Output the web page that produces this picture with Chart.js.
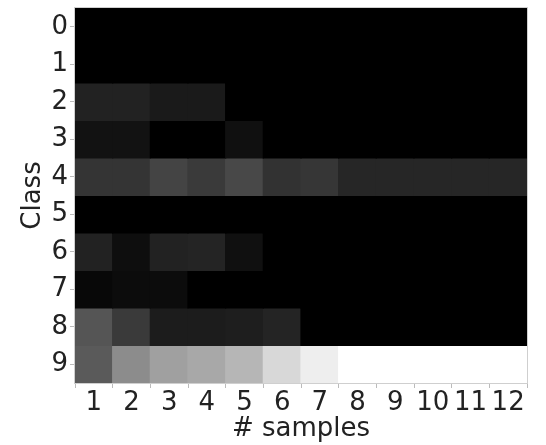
<!DOCTYPE html>
<html>
<head>
<meta charset="utf-8">
<script src="https://cdn.jsdelivr.net/npm/chart.js@4/dist/chart.umd.min.js"></script>
<style>
    html, body { margin: 0; padding: 0; background: #fff; }
    #wrap { width: 546px; height: 445px; }
</style>
</head>
<body>
<div id="wrap"><canvas id="myChart" width="546" height="445"></canvas></div>
<script>
// tick labels
const samples = ['1','2','3','4','5','6','7','8','9','10','11','12'];
const classes = [0,1,2,3,4,5,6,7,8,9];

// gray level (0-255) of every cell, one row per class
const class0 = [0,0,0,0,0,0,0,0,0,0,0,0];
const class1 = [0,0,0,0,0,0,0,0,0,0,0,0];
const class2 = [34,34,26,26,0,0,0,0,0,0,0,0];
const class3 = [18,18,0,0,16,0,0,0,0,0,0,0];
const class4 = [52,52,68,58,72,50,54,38,38,38,38,38];
const class5 = [0,0,0,0,0,0,0,0,0,0,0,0];
const class6 = [34,14,34,36,16,0,0,0,0,0,0,0];
const class7 = [8,12,12,0,0,0,0,0,0,0,0,0];
const class8 = [85,58,28,28,30,36,0,0,0,0,0,0];
const class9 = [90,140,160,168,182,216,238,255,255,255,255,255];

const rows = [class0,class1,class2,class3,class4,class5,class6,class7,class8,class9];

let ctx;
let myChart;

function gray(v){
    return 'rgb(' + v + ',' + v + ',' + v + ')';
}

// light frame round the plot area
const frame = {
    id: 'frame',
    afterDatasetsDraw(chart){
        const a = chart.chartArea;
        const c = chart.ctx;
        c.save();
        c.strokeStyle = '#cfcfcf';
        c.lineWidth = 1;
        c.strokeRect(a.left - 0.5, a.top - 0.5, a.right - a.left + 1, a.bottom - a.top + 1);
        c.restore();
    }
};

ctx = document.getElementById('myChart');

myChart = new Chart(ctx, {
    type: 'bar',
    data: {
        labels: samples,
        datasets: classes.map(function(c){
            return {
                label: 'Class ' + c,
                data: samples.map(function(){ return [c, c + 1]; }),
                backgroundColor: rows[c].map(gray),
                borderWidth: 0,
                inflateAmount: 0.6,   // hides the seams between cells
                barPercentage: 1,
                categoryPercentage: 1
            };
        })
    },
    options: {
        responsive: false,
        animation: false,
        grouped: false,
        layout: { padding: { left: 14, top: 8, right: 19, bottom: 0 } },
        plugins: {
            legend: { display: false },
            tooltip: { enabled: false }
        },
        scales: {
            x: {
                type: 'category',
                offset: true,
                grid: { display: true, drawOnChartArea: false, drawTicks: true, tickLength: 5, color: '#bbb' },
                border: { display: false },
                ticks: {
                    color: '#222',
                    padding: 0,
                    maxRotation: 0,
                    autoSkip: false,
                    font: { family: 'DejaVu Sans', size: 26 }
                },
                title: {
                    display: true,
                    text: '# samples',
                    color: '#222',
                    padding: { top: 0, bottom: 0 },
                    font: { family: 'DejaVu Sans', size: 26 }
                },
                afterFit: function(scale){
                    scale.height = 62;
                    scale.paddingLeft = 0;
                    scale.paddingRight = 0;
                }
            },
            y: {
                type: 'linear',
                reverse: true,
                min: 0,
                max: 10,
                grid: { display: true, drawOnChartArea: false, drawTicks: true, tickLength: 5, color: '#bbb' },
                border: { display: false },
                afterBuildTicks: function(scale){
                    scale.ticks = classes.map(function(c){ return { value: c + 0.5 }; });
                },
                ticks: {
                    color: '#222',
                    padding: 2,
                    font: { family: 'DejaVu Sans', size: 26 },
                    callback: function(value){ return String(Math.floor(value)); }
                },
                title: {
                    display: true,
                    text: 'Class',
                    color: '#222',
                    padding: { top: 4, bottom: 4 },
                    font: { family: 'DejaVu Sans', size: 26 }
                },
                afterFit: function(scale){
                    scale.width = 61;
                    scale.paddingTop = 0;
                    scale.paddingBottom = 0;
                }
            }
        }
    },
    plugins: [frame]
});
</script>
</body>
</html>
